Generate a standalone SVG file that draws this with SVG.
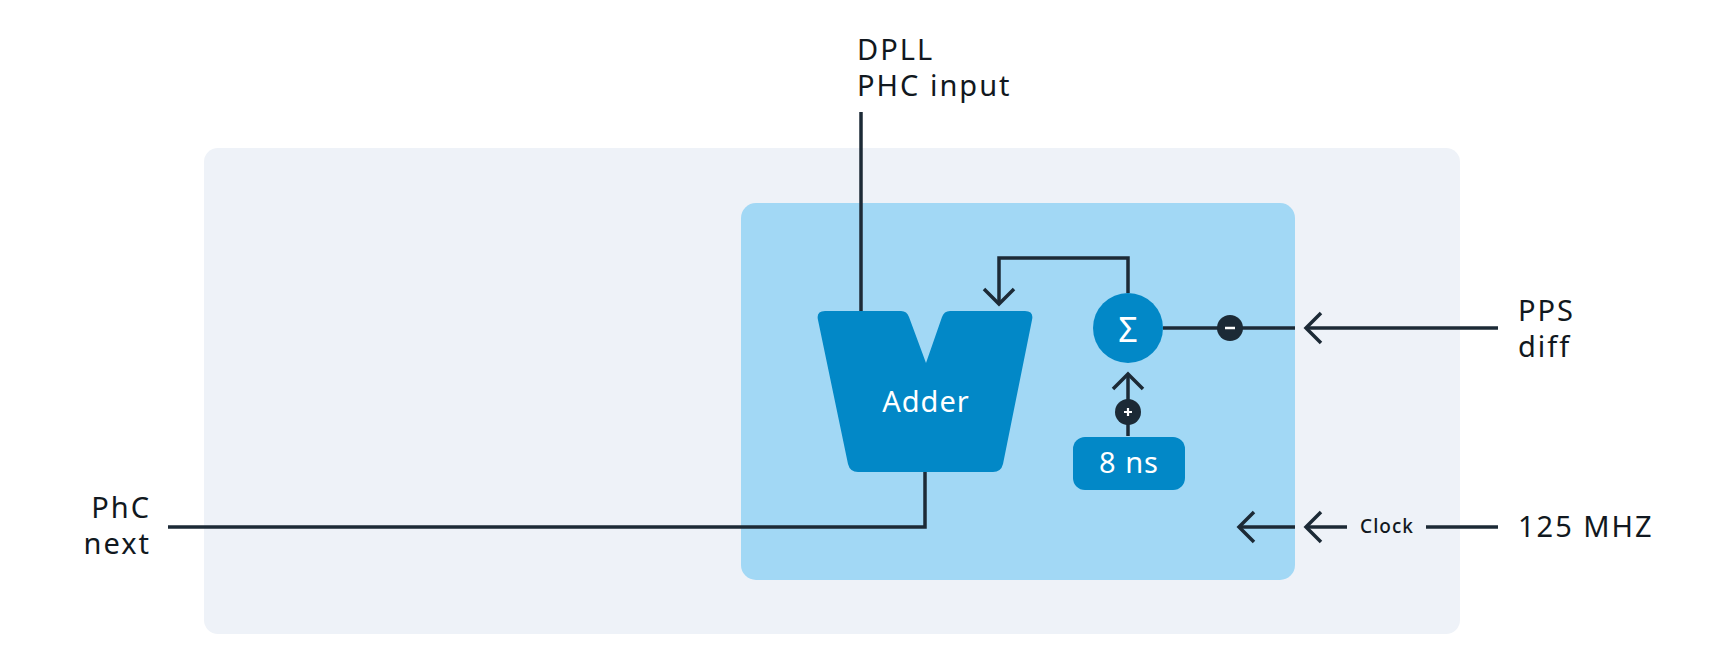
<svg xmlns="http://www.w3.org/2000/svg" width="1721" height="667" viewBox="0 0 1721 667">
<style>
.lbl{font-family:"Noto Sans","Liberation Sans",sans-serif;font-size:29px;letter-spacing:2px;fill:#111820}
.wt{font-family:"Noto Sans","Liberation Sans",sans-serif;fill:#ffffff}
.ln{fill:none;stroke:#1C2A36;stroke-width:3.5}
.blue{fill:#0288C7}
.badge{fill:#1C2A36}
</style>
<rect width="1721" height="667" fill="#ffffff"/>
<g id="outer"><rect x="204" y="148" width="1256" height="486" rx="14" fill="#EEF2F8"/></g>
<g id="inner"><rect x="741" y="203" width="554" height="377" rx="15" fill="#A2D8F5"/></g>
<g id="connectors">
<path class="ln" d="M861,112 V311"/>
<path class="ln" d="M1128,293 V258 H999 V303"/>
<path class="ln" d="M984,289 L999,304 L1014,289"/>
<path class="ln" d="M1163,328 H1295"/>
<path class="ln" d="M1306,328 H1498"/>
<path class="ln" d="M1321,313 L1306,328 L1321,343"/>
<path class="ln" d="M1128,436 V374"/>
<path class="ln" d="M1113,389 L1128,374 L1143,389"/>
<path class="ln" d="M168,527 H925 V472"/>
<path class="ln" d="M1239,527 H1295"/>
<path class="ln" d="M1254,512 L1239,527 L1254,542"/>
<path class="ln" d="M1306,527 H1347"/>
<path class="ln" d="M1321,512 L1306,527 L1321,542"/>
<path class="ln" d="M1426,527 H1498"/>
</g>
<g id="adder">
<path class="blue" d="M825,311 L901,311 Q907,311 909,317 L926,363 L942,317 Q944,311 950,311 L1025,311 Q1034,311 1032,320 L1003,464 Q1001,472 993,472 L858,472 Q850,472 848,464 L818,320 Q816,311 825,311 Z"/>
<text class="wt" x="926" y="412" font-size="29" letter-spacing="1" text-anchor="middle">Adder</text>
</g>
<g id="sigma">
<circle class="blue" cx="1128" cy="328" r="35"/>
<text class="wt" x="1128" y="342" font-size="34" text-anchor="middle">Σ</text>
</g>
<g id="minus">
<circle class="badge" cx="1230" cy="328" r="13"/>
<path d="M1225,328 H1235" stroke="#fff" stroke-width="2.5"/>
</g>
<g id="plus">
<circle class="badge" cx="1128" cy="412" r="13"/>
<path d="M1124,412 H1132 M1128,408 V416" stroke="#fff" stroke-width="2.2"/>
</g>
<g id="ns8">
<rect class="blue" x="1073" y="437" width="112" height="53" rx="12"/>
<text class="wt" x="1129" y="473" font-size="29" letter-spacing="1" text-anchor="middle">8 ns</text>
</g>
<g id="dpll">
<text class="lbl" x="857" y="60">DPLL</text>
<text class="lbl" x="857" y="96">PHC input</text>
</g>
<g id="pps">
<text class="lbl" x="1518" y="321">PPS</text>
<text class="lbl" x="1518" y="357">diff</text>
</g>
<g id="mhz"><text class="lbl" x="1518" y="537">125 MHZ</text></g>
<g id="clock"><text x="1387" y="533" text-anchor="middle" font-family="Noto Sans, Liberation Sans, sans-serif" font-size="19" font-weight="500" letter-spacing="1" fill="#111820">Clock</text></g>
<g id="phc">
<text class="lbl" x="151" y="518" text-anchor="end">PhC</text>
<text class="lbl" x="151" y="554" text-anchor="end">next</text>
</g>
</svg>
